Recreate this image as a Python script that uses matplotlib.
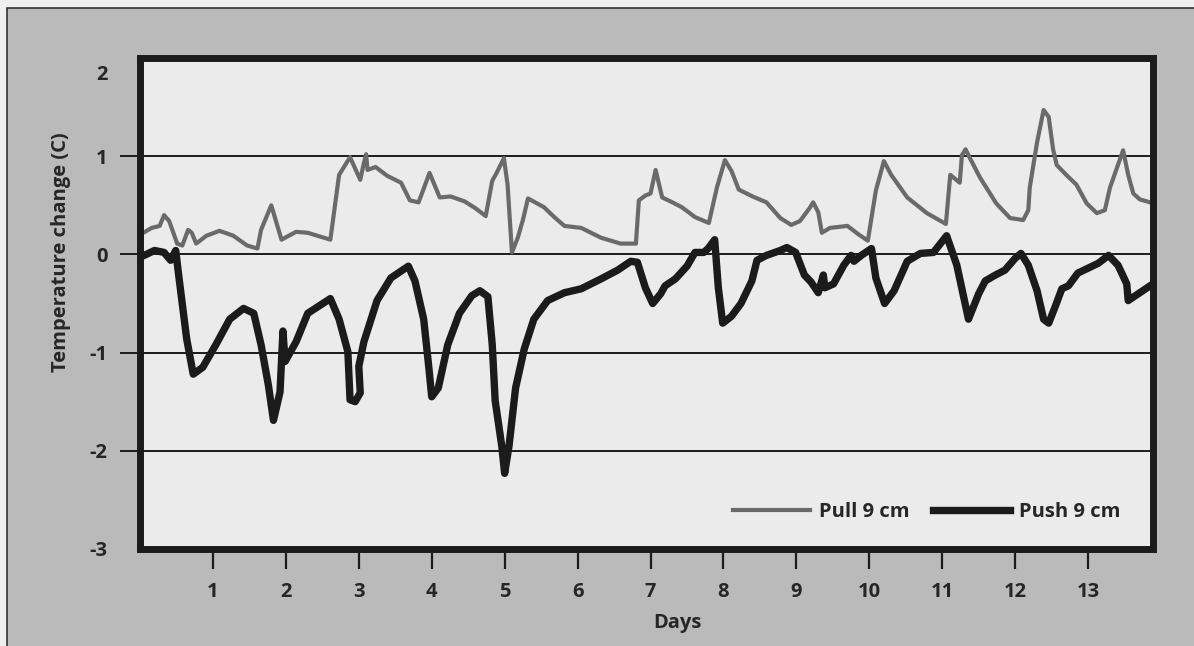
import matplotlib
matplotlib.use("Agg")
import matplotlib.pyplot as plt
from matplotlib.patches import Rectangle
from matplotlib.transforms import ScaledTranslation

# ---------------- data ----------------
pull_days = [0.00, 0.16, 0.27, 0.33, 0.40, 0.51, 0.58, 0.66, 0.71, 0.77, 0.91, 1.09, 1.28,
             1.47, 1.61, 1.66, 1.80, 1.94, 2.14, 2.30, 2.61, 2.73, 2.88, 3.02, 3.07, 3.10,
             3.12, 3.23, 3.39, 3.58, 3.70, 3.82, 3.97, 4.11, 4.26, 4.45, 4.60, 4.74, 4.83,
             4.89, 4.99, 5.04, 5.10, 5.18, 5.25, 5.32, 5.54, 5.68, 5.82, 6.05, 6.32, 6.59,
             6.80, 6.84, 6.93, 7.00, 7.07, 7.16, 7.30, 7.43, 7.61, 7.80, 7.91, 8.02, 8.11,
             8.21, 8.40, 8.59, 8.78, 8.93, 9.05, 9.18, 9.23, 9.30, 9.35, 9.46, 9.70, 9.86,
             9.98, 10.09, 10.20, 10.30, 10.52, 10.79, 11.05, 11.11, 11.24, 11.27, 11.32,
             11.38, 11.52, 11.74, 11.93, 12.11, 12.18, 12.20, 12.30, 12.39, 12.46, 12.52,
             12.57, 12.70, 12.84, 12.98, 13.12, 13.23, 13.30, 13.48, 13.55, 13.62, 13.71,
             13.85]
pull_vals = [0.20, 0.27, 0.29, 0.40, 0.34, 0.11, 0.09, 0.25, 0.22, 0.11, 0.19, 0.24, 0.19,
             0.09, 0.06, 0.25, 0.50, 0.15, 0.23, 0.22, 0.15, 0.81, 0.99, 0.76, 0.93, 1.02,
             0.86, 0.89, 0.80, 0.73, 0.55, 0.53, 0.83, 0.58, 0.59, 0.54, 0.47, 0.39, 0.75,
             0.83, 0.98, 0.71, 0.02, 0.17, 0.35, 0.57, 0.48, 0.38, 0.29, 0.27, 0.17, 0.11,
             0.11, 0.55, 0.60, 0.62, 0.86, 0.58, 0.53, 0.48, 0.38, 0.32, 0.68, 0.96, 0.85,
             0.66, 0.59, 0.53, 0.37, 0.30, 0.34, 0.47, 0.53, 0.43, 0.22, 0.27, 0.29, 0.20,
             0.14, 0.65, 0.95, 0.81, 0.58, 0.42, 0.31, 0.81, 0.73, 1.01, 1.07, 0.98, 0.78,
             0.52, 0.37, 0.35, 0.45, 0.68, 1.14, 1.47, 1.40, 1.07, 0.91, 0.81, 0.71, 0.52,
             0.42, 0.45, 0.68, 1.06, 0.81, 0.62, 0.56, 0.53]

push_days = [0.00, 0.20, 0.33, 0.42, 0.49, 0.53, 0.64, 0.73, 0.86, 1.04, 1.23, 1.42, 1.56,
             1.66, 1.76, 1.83, 1.92, 1.96, 1.99, 2.14, 2.30, 2.61, 2.73, 2.85, 2.88, 2.95,
             3.02, 3.00, 3.07, 3.25, 3.44, 3.68, 3.77, 3.89, 3.96, 4.00, 4.09, 4.22, 4.38,
             4.55, 4.66, 4.77, 4.83, 4.87, 4.96, 5.00, 5.06, 5.15, 5.27, 5.40, 5.59, 5.82,
             6.05, 6.32, 6.55, 6.73, 6.82, 6.93, 7.03, 7.14, 7.20, 7.34, 7.50, 7.61, 7.73,
             7.79, 7.88, 7.93, 7.99, 8.11, 8.24, 8.39, 8.46, 8.59, 8.78, 8.87, 8.99, 9.11,
             9.20, 9.30, 9.37, 9.39, 9.51, 9.65, 9.75, 9.79, 9.89, 10.03, 10.09, 10.21,
             10.34, 10.52, 10.70, 10.88, 11.06, 11.20, 11.36, 11.50, 11.59, 11.73, 11.86,
             12.00, 12.08, 12.18, 12.30, 12.39, 12.46, 12.55, 12.64, 12.73, 12.86, 13.00,
             13.14, 13.28, 13.41, 13.53, 13.55, 13.69, 13.85]
push_vals = [-0.03, 0.04, 0.02, -0.06, 0.04, -0.21, -0.86, -1.22, -1.15, -0.92, -0.66,
             -0.55, -0.60, -0.92, -1.33, -1.69, -1.40, -0.78, -1.09, -0.89, -0.60, -0.45,
             -0.66, -0.99, -1.48, -1.50, -1.41, -1.14, -0.89, -0.47, -0.24, -0.12, -0.27,
             -0.66, -1.15, -1.45, -1.36, -0.92, -0.60, -0.42, -0.37, -0.43, -0.92, -1.49,
             -1.95, -2.23, -1.95, -1.36, -0.96, -0.66, -0.47, -0.39, -0.35, -0.25, -0.16,
             -0.07, -0.08, -0.34, -0.50, -0.40, -0.32, -0.25, -0.12, 0.02, 0.02, 0.06, 0.15,
             -0.34, -0.70, -0.63, -0.50, -0.27, -0.06, -0.01, 0.04, 0.07, 0.02, -0.21,
             -0.28, -0.39, -0.21, -0.34, -0.30, -0.11, -0.01, -0.07, -0.01, 0.06, -0.24,
             -0.50, -0.37, -0.07, 0.01, 0.02, 0.19, -0.11, -0.66, -0.40, -0.27, -0.21,
             -0.16, -0.04, 0.01, -0.11, -0.37, -0.66, -0.70, -0.53, -0.35, -0.32, -0.19,
             -0.14, -0.09, -0.01, -0.11, -0.30, -0.47, -0.40, -0.32]

day_ticks = list(range(1, 14))
temp_ticks = [-3, -2, -1, 0, 1, 2]
series_labels = ["Pull 9 cm", "Push 9 cm"]

# ---------------- style ----------------
FONT = "Open Sans"
plt.rcParams["font.family"] = [FONT, "DejaVu Sans"]
W = "bold"
FS = 14.5
DARK = "#1b1b1b"
TXT = "#262626"

fig = plt.figure(figsize=(11.94, 6.46), dpi=100, facecolor="#efefef")
# outer gray panel with thin dark border
panel = Rectangle((7 / 1194, -0.05), 1.2, (646 - 8) / 646 + 0.05,
                  transform=fig.transFigure, facecolor="#bababa",
                  edgecolor="#333333", linewidth=1.2, zorder=-10)
fig.add_artist(panel)

ax = fig.add_axes([140 / 1194, 97 / 646, (1153 - 140) / 1194, (588 - 97) / 646])
ax.set_zorder(1)
ax.set_facecolor("#ebebeb")

ax.plot(pull_days, pull_vals, color="#6a6a6a", lw=3.0, label=series_labels[0], zorder=3)
ax.plot(push_days, push_vals, color=DARK, lw=5.3, label=series_labels[1], zorder=4)

ax.set_xlim(0, 13.89)
ax.set_ylim(-3, 2)
ax.set_xticks(day_ticks)
ax.set_xticklabels([str(d) for d in day_ticks], fontsize=FS, fontweight=W, color=TXT)
ax.set_yticks(temp_ticks)
ax.set_yticklabels([str(t) for t in temp_ticks], fontsize=FS, fontweight=W, color=TXT)

ax.tick_params(axis="x", direction="out", length=14.5, width=1.6, color=DARK, pad=9)
ax.tick_params(axis="y", direction="out", length=14.5, width=1.4, color=DARK, pad=9)
yt = ax.yaxis.get_major_ticks()
yt[0].tick1line.set_visible(False)
yt[-1].tick1line.set_visible(False)
# top label sits a little below the frame in the original
top_lab = yt[-1].label1
top_lab.set_transform(top_lab.get_transform() + ScaledTranslation(0, -0.14, fig.dpi_scale_trans))

ax.grid(axis="y", color=DARK, lw=1.4, zorder=1)
ax.set_axisbelow(True)

for s in ax.spines.values():
    s.set_linewidth(5)
    s.set_color(DARK)
    s.set_zorder(5)

ax.set_xlabel("Days", fontsize=FS, fontweight=W, color=TXT)
ax.xaxis.set_label_coords(0.531, -0.13)
ax.set_ylabel("Temperature change (C)", fontsize=FS, fontweight=W, color=TXT)
ax.yaxis.set_label_coords(-0.068, 0.605)

leg = ax.legend(loc="center right", bbox_to_anchor=(0.968, 0.075), ncol=2, frameon=False,
                fontsize=FS, handlelength=3.8, handletextpad=0.45, columnspacing=1.2,
                borderpad=0, borderaxespad=0)
for t in leg.get_texts():
    t.set_color(TXT)
    t.set_fontweight(W)

fig.savefig("out.png", dpi=100, facecolor=fig.get_facecolor())
